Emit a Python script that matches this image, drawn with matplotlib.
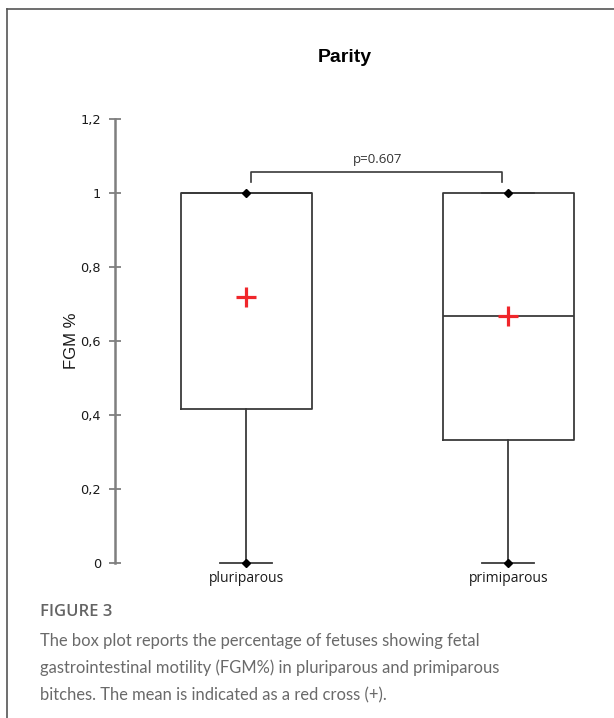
import matplotlib
matplotlib.use("Agg")
import matplotlib.pyplot as plt
from matplotlib.lines import Line2D

# box statistics per parity group
groups = ["pluriparous", "primiparous"]
q1 = [0.4167, 0.3333]
medians = [1.0, 0.6667]
q3 = [1.0, 1.0]
mins = [0.0, 0.0]
maxs = [1.0, 1.0]
means = [0.72, 0.667]
p_value = "p=0.607"
yticks = [0, 0.2, 0.4, 0.6, 0.8, 1.0, 1.2]
ytick_labels = ["0", "0,2", "0,4", "0,6", "0,8", "1", "1,2"]

W, H = 614, 718
fig = plt.figure(figsize=(W / 100, H / 100), dpi=100)

# outer frame (top and left edges)
fig.add_artist(Line2D([7 / W, 1], [1 - 9 / H, 1 - 9 / H], color="#555555", lw=1.2))
fig.add_artist(Line2D([7 / W, 7 / W], [0, 1 - 9 / H], color="#555555", lw=1.2))

ax = fig.add_axes([115 / W, 1 - 563 / H, 485 / W, 444 / H])
ax.set_xlim(0.5, 2.35)
ax.set_ylim(0, 1.2)

stats = []
for i, g in enumerate(groups):
    stats.append(dict(label=g, q1=q1[i], med=medians[i], q3=q3[i],
                      whislo=mins[i], whishi=maxs[i], fliers=[]))

line_kw = dict(color="#3a3a3a", linewidth=1.3)
ax.bxp(stats, positions=[1, 2], widths=0.5, capwidths=0.2, showfliers=False,
       boxprops=line_kw, whiskerprops=line_kw, capprops=line_kw,
       medianprops=line_kw, manage_ticks=False)
for art in ax.lines:
    art.set_clip_on(False)

# min / max markers
for i in range(len(groups)):
    ax.plot([i + 1, i + 1], [mins[i], maxs[i]], ls="none", marker="D",
            ms=4, color="black", clip_on=False, zorder=4)

# means as red crosses
ax.plot([1, 2], means, ls="none", marker="+", ms=15, mew=2.3,
        color="#f0262b", clip_on=False, zorder=5)

# significance bracket
yb, yl = 1.057, 1.03
ax.plot([1.02, 1.02, 1.975, 1.975], [yl, yb, yb, yl], color="#3a3a3a",
        lw=1.2, clip_on=False)
ax.text(1.5, yb + 0.016, p_value, ha="center", va="bottom",
        fontsize=9.5, family="Open Sans", color="#333333")

for s in ["top", "right", "bottom"]:
    ax.spines[s].set_visible(False)
ax.spines["left"].set_color("#7f7f7f")
ax.spines["left"].set_linewidth(1.8)
ax.set_yticks(yticks)
ax.set_yticklabels(ytick_labels, family="DejaVu Sans", fontsize=9.3, color="#1a1a1a")
ax.tick_params(axis="y", direction="inout", length=8, width=1.3, color="#7f7f7f", pad=6)
ax.set_xticks([])
for i, g in enumerate(groups):
    ax.text(i + 1, -0.022, g, ha="center", va="top", fontsize=10,
            family="Open Sans", fontweight="medium", color="#1a1a1a")

ax.set_ylabel("FGM %", family="Liberation Sans", fontsize=12, color="#1a1a1a", labelpad=1)

fig.text(345 / W, 1 - 58 / H, "Parity", ha="center", va="center",
         fontsize=14, fontweight="bold", family="Liberation Sans")

# caption
fig.text(40 / W, 1 - 612 / H, "FIGURE 3", ha="left", va="center",
         fontsize=12, family="Open Sans", fontweight="semibold", color="#646464")
caption = ("The box plot reports the percentage of fetuses showing fetal\n"
           "gastrointestinal motility (FGM%) in pluriparous and primiparous\n"
           "bitches. The mean is indicated as a red cross (+).")
fig.text(40 / W, 1 - 633 / H, caption, ha="left", va="top", fontsize=11.9,
         family="Lato", color="#6a6a6a", linespacing=1.8)

fig.savefig("out.png", dpi=100)
